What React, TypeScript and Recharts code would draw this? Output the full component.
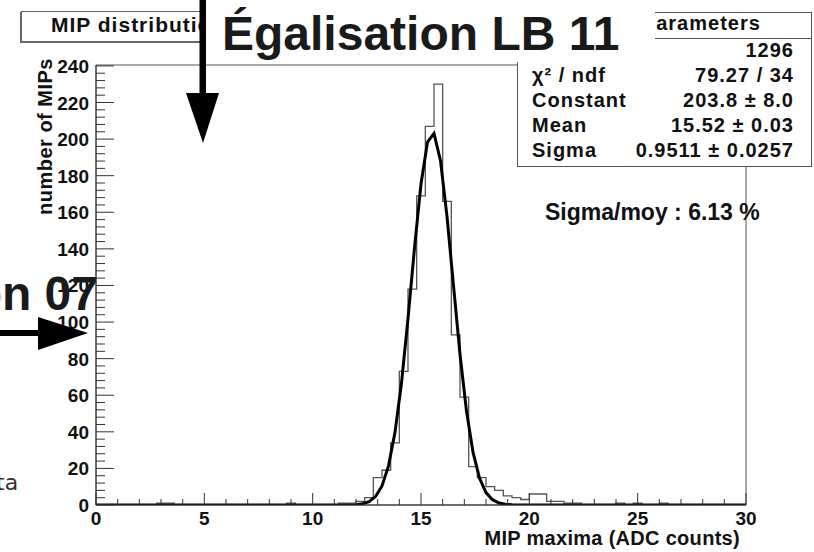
import { ComposedChart, Line, XAxis, YAxis, ReferenceArea } from "recharts";

// histogram: 75 bins of 0.4 ADC counts from 0 to 30
const BIN_WIDTH = 0.4;
const binCounts = [
  0, 0, 0, 0, 0, 0, 0, 1, 1, 0,
  0, 0, 0, 0, 0, 0, 0, 0, 0, 0,
  0, 0, 1, 0, 0, 0, 0, 0, 1, 1,
  2, 4, 15, 19, 34, 73, 118, 169, 207, 230,
  166, 93, 59, 21, 15, 10, 8, 5, 4, 3,
  6, 6, 2, 2, 1, 1, 0, 0, 0, 0,
  1, 0, 1, 0, 0, 1, 0, 0, 0, 0,
  0, 0, 0, 0, 0,
];

// gaussian fit curve
const fitX = [0, 3, 6, 9, 11, 12, 12.3, 12.6, 12.9, 13.2, 13.5, 13.8, 14.1, 14.4, 14.7, 15.0, 15.3, 15.6, 15.9, 16.2, 16.5, 16.8, 17.1, 17.4, 17.7, 18.0, 18.3, 18.6, 18.9, 19.2, 20, 22, 25, 30];
const fitY = [0, 0, 0, 0, 0, 0.2, 0.7, 1.8, 4.6, 10.4, 21.4, 39.7, 66.8, 101.9, 140.5, 175.5, 198.4, 203.1, 188.2, 157.8, 119.9, 82.4, 51.3, 28.9, 14.7, 6.8, 2.9, 1.1, 0.4, 0.1, 0, 0, 0, 0];

const xMajor = [0, 5, 10, 15, 20, 25, 30];
const yMajor = [0, 20, 40, 60, 80, 100, 120, 140, 160, 180, 200, 220, 240];
const xTicks = Array.from({ length: 31 }, (_, i) => i);
const yTicks = Array.from({ length: 61 }, (_, i) => i * 4);

const statLabels = ["", "χ² / ndf", "Constant", "Mean", "Sigma"];
const statValues = ["1296", "79.27 / 34", "203.8 ± 8.0", "15.52 ± 0.03", "0.9511 ± 0.0257"];

const FONT = "'Liberation Sans', Arial, sans-serif";

const histData = [
  ...binCounts.map((c, i) => ({ x: +(i * BIN_WIDTH).toFixed(1), count: c })),
  { x: 30, count: binCounts[binCounts.length - 1] },
];
const fitData = fitX.map((x, i) => ({ x, fit: fitY[i] }));

function XTick(props: any) {
  const { x, y, payload } = props;
  const major = xMajor.includes(payload.value);
  return (
    <g>
      <line x1={x} x2={x} y1={y} y2={y - (major ? 12 : 6)} stroke="#333" />
      {major && (
        <text x={x} y={y + 20} textAnchor="middle" fontFamily={FONT} fontWeight="bold" fontSize={19} fill="#111">
          {payload.value}
        </text>
      )}
    </g>
  );
}

function YTick(props: any) {
  const { x, y, payload } = props;
  const major = yMajor.includes(payload.value);
  return (
    <g>
      <line x1={x} x2={x + (major ? 18 : 9)} y1={y} y2={y} stroke="#333" />
      {major && (
        <text x={x - 7} y={y + 7} textAnchor="end" fontFamily={FONT} fontWeight="bold" fontSize={19} fill="#111">
          {payload.value}
        </text>
      )}
    </g>
  );
}

const rootText = { fontFamily: FONT, fontWeight: "bold" as const, fill: "#111" };

export default function App() {
  return (
    <div style={{ position: "absolute", left: 0, top: 0, width: 814, height: 552, background: "#fff", overflow: "hidden" }}>
      <ComposedChart width={814} height={552} data={histData} margin={{ top: 65, right: 68, bottom: 46, left: 95 }}>
        <XAxis
          dataKey="x"
          type="number"
          domain={[0, 30]}
          ticks={xTicks}
          interval={0}
          tickSize={0}
          tickMargin={0}
          height={1}
          tick={<XTick />}
          axisLine={{ stroke: "#333" }}
          allowDataOverflow
        />
        <YAxis
          type="number"
          domain={[0, 240.5]}
          ticks={yTicks}
          interval={0}
          tickSize={0}
          tickMargin={0}
          width={1}
          tick={<YTick />}
          axisLine={{ stroke: "#333" }}
          allowDataOverflow
        />
        <ReferenceArea x1={0} x2={30} y1={0} y2={240.5} fill="none" stroke="#555" strokeWidth={1} ifOverflow="visible" />
        <Line dataKey="count" type="stepAfter" stroke="#555" strokeWidth={1.3} dot={false} isAnimationActive={false} />
        <Line data={fitData} dataKey="fit" type="linear" stroke="#000" strokeWidth={3} dot={false} isAnimationActive={false} />
      </ComposedChart>

      <div style={{ position: "absolute", left: 21, top: 11, width: 200, height: 29, border: "1px solid #666", boxShadow: "-1px 1px 0 #666", background: "#fff" }} />

      <div style={{ position: "absolute", left: 517, top: 12, width: 293, height: 153, border: "1px solid #555", background: "#fff" }}>
        <div style={{ position: "absolute", left: 0, right: 0, top: 25, borderTop: "1px solid #555" }} />
      </div>

      <svg width={814} height={552} style={{ position: "absolute", left: 0, top: 0, pointerEvents: "none" }}>
        <text x={51} y={32} {...rootText} fontSize={21} letterSpacing={1}>MIP distribution</text>

        {statLabels.map((l, i) => (
          <text key={"l" + i} x={532} y={57 + i * 25} {...rootText} fontSize={20} letterSpacing={1}>{l}</text>
        ))}
        {statValues.map((v, i) => (
          <text key={"v" + i} x={794} y={57 + i * 25} textAnchor="end" {...rootText} fontSize={20} letterSpacing={1}>{v}</text>
        ))}
        <text x={643} y={30} {...rootText} fontSize={20} letterSpacing={1}>parameters</text>

        <rect x={206} y={0} width={449} height={62} fill="#fff" />
        <text x={222} y={50} fontFamily={FONT} fontWeight="bold" fontSize={48} fill="#1a1a1a">Égalisation LB 11</text>

        <rect x={199.5} y={0} width={6.5} height={96} fill="#000" />
        <polygon points="186,93 219,93 203,143" fill="#000" />

        <text x={545} y={220} {...rootText} fontSize={23}>Sigma/moy : 6.13 %</text>

        <text x={52} y={58} transform="rotate(-90 52 58)" textAnchor="end" {...rootText} fontSize={20} letterSpacing={0.5}>number of MIPs</text>
        <text x={740} y={545} textAnchor="end" {...rootText} fontSize={20} letterSpacing={0.3}>MIP maxima (ADC counts)</text>

        <text x={98} y={310} textAnchor="end" fontFamily={FONT} fontWeight="bold" fontSize={48} fill="#1a1a1a">on 07</text>
        <rect x={0} y={330} width={40} height={6} fill="#000" />
        <polygon points="38,317 38,350 88,333" fill="#000" />

        <text x={-4} y={490} fontFamily="'DejaVu Sans', sans-serif" fontSize={22} fill="#333">ta</text>
      </svg>
    </div>
  );
}
